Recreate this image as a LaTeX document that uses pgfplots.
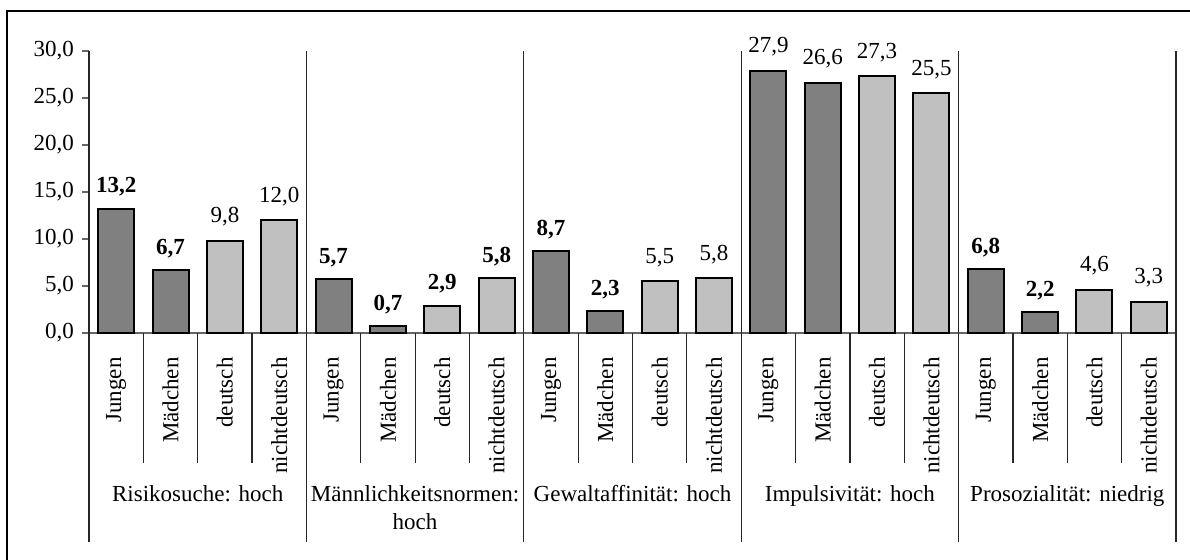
\documentclass[border=0pt]{standalone}
\usepackage{fontspec}
\setmainfont{Liberation Serif}
\usepackage{pgfplots}
\pgfplotsset{compat=1.18}
\definecolor{darkbar}{RGB}{128,128,128}
\definecolor{lightbar}{RGB}{192,192,192}
\begin{document}
\fontsize{11.5}{13.5}\selectfont
\begin{tikzpicture}
\useasboundingbox (0,0) rectangle (595pt,-280pt);
\draw[line width=0.9pt] (3.5pt,-282pt) -- (3.5pt,-5.5pt) -- (597pt,-5.5pt);
\begin{axis}[
  at={(44.5pt,-166.5pt)}, anchor=south west,
  scale only axis, width=543.5pt, height=141pt,
  xmin=0, xmax=20, ymin=0, ymax=30,
  axis lines=left,
  axis line style={-, draw=black!60, line width=0.6pt},
  ytick={0,5,...,30},
  tick align=outside, major tick length=3.5pt,
  major y tick style={black!60, line width=0.6pt},
  major x tick style={draw=none},
  /pgf/number format/fixed, /pgf/number format/fixed zerofill,
  /pgf/number format/precision=1, /pgf/number format/use comma,
  /pgf/number format/assume math mode=true,
  xtick={0.5,1.5,...,19.5},
  xticklabels={Jungen,Mädchen,deutsch,nichtdeutsch,Jungen,Mädchen,deutsch,nichtdeutsch,Jungen,Mädchen,deutsch,nichtdeutsch,Jungen,Mädchen,deutsch,nichtdeutsch,Jungen,Mädchen,deutsch,nichtdeutsch},
  x tick label style={rotate=90, anchor=east, inner sep=0pt},
  xticklabel shift=8.5pt,
  tick label style={font=\fontsize{11.5}{13.5}\selectfont},
  clip=false,
  ybar, bar width=18pt, bar shift=0pt,
]
% dark, bold labels
\addplot[fill=darkbar, draw=black, line width=1pt,
  nodes near coords,
  every node near coord/.style={font=\fontsize{11.5}{13.5}\selectfont\bfseries, anchor=base, yshift=8pt, inner sep=0pt, black}]
  coordinates {(0.5,13.2) (1.5,6.7) (4.5,5.7) (5.5,0.7) (8.5,8.7) (9.5,2.3) (16.5,6.8) (17.5,2.2)};
% dark, normal labels
\addplot[fill=darkbar, draw=black, line width=1pt,
  nodes near coords,
  every node near coord/.style={font=\fontsize{11.5}{13.5}\selectfont, anchor=base, yshift=9pt, inner sep=0pt, black}]
  coordinates {(12.5,27.9) (13.5,26.6)};
% light, bold labels
\addplot[fill=lightbar, draw=black, line width=1pt,
  nodes near coords,
  every node near coord/.style={font=\fontsize{11.5}{13.5}\selectfont\bfseries, anchor=base, yshift=8pt, inner sep=0pt, black}]
  coordinates {(6.5,2.9) (7.5,5.8)};
% light, normal labels
\addplot[fill=lightbar, draw=black, line width=1pt,
  nodes near coords,
  every node near coord/.style={font=\fontsize{11.5}{13.5}\selectfont, anchor=base, yshift=9pt, inner sep=0pt, black}]
  coordinates {(2.5,9.8) (3.5,12.0) (10.5,5.5) (11.5,5.8) (14.5,27.3) (15.5,25.5) (18.5,4.6) (19.5,3.3)};
% group dividers
\pgfplotsinvokeforeach{0,4,8,12,16,20}{
  \draw[black!85, line width=0.6pt] (axis cs:#1,30) -- ([yshift=-104.5pt]axis cs:#1,0);
}
% category dividers
\pgfplotsinvokeforeach{1,2,3,5,6,7,9,10,11,13,14,15,17,18,19}{
  \draw[black!85, line width=0.6pt] (axis cs:#1,0) -- ([yshift=-65pt]axis cs:#1,0);
}
\node[anchor=base, inner sep=0pt] at ([yshift=-84.5pt]axis cs:2,0) {Risikosuche: hoch};
\node[anchor=base, inner sep=0pt] at ([yshift=-84.5pt]axis cs:6,0) {Männlichkeitsnormen:};
\node[anchor=base, inner sep=0pt] at ([yshift=-98.5pt]axis cs:6,0) {hoch};
\node[anchor=base, inner sep=0pt] at ([yshift=-84.5pt]axis cs:10,0) {Gewaltaffinität: hoch};
\node[anchor=base, inner sep=0pt] at ([yshift=-84.5pt]axis cs:14,0) {Impulsivität: hoch};
\node[anchor=base, inner sep=0pt] at ([yshift=-84.5pt]axis cs:18,0) {Prosozialität: niedrig};
\end{axis}
\end{tikzpicture}
\end{document}
